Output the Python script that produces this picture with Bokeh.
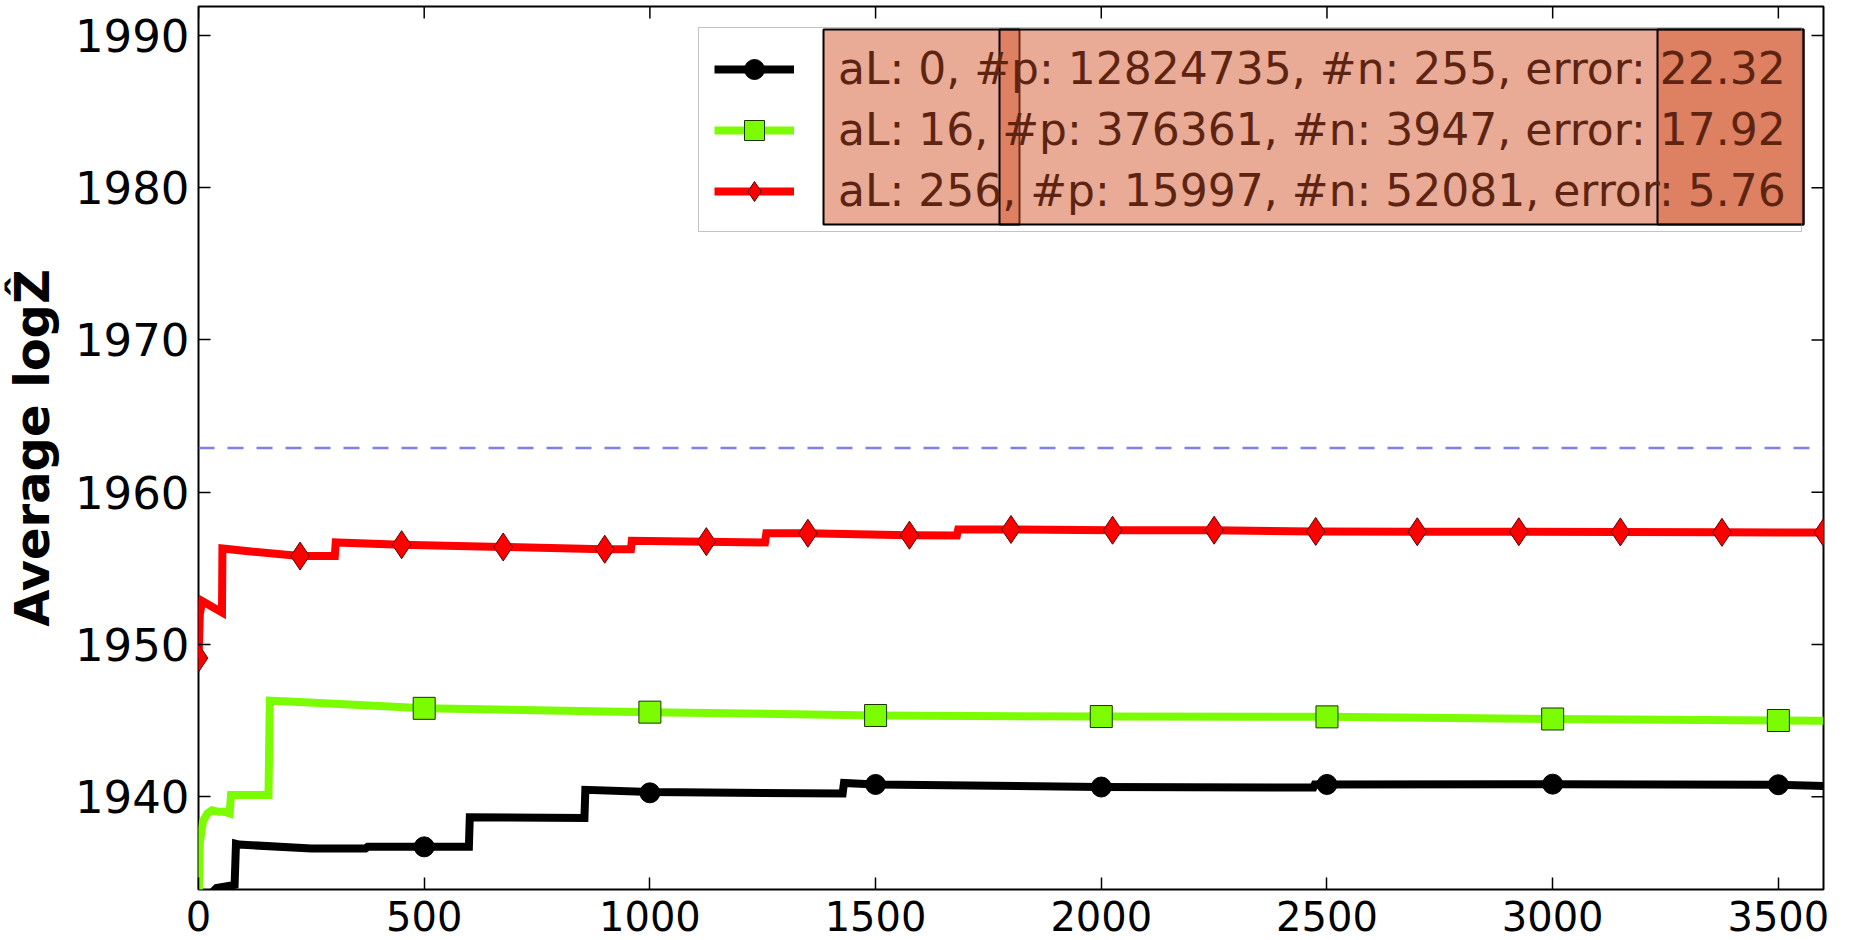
import math
from bokeh.plotting import figure
from bokeh.models import (Range1d, FixedTicker, Legend, LegendItem,
                          Span, BoxAnnotation)
from bokeh.embed import file_html
from bokeh.resources import INLINE

# ---------------- data ----------------
x_ticks = [0, 500, 1000, 1500, 2000, 2500, 3000, 3500]
y_ticks = [1940, 1950, 1960, 1970, 1980, 1990]
x_lim = [0, 3600]
y_lim = [1933.9, 1991.9]

true_logz = 1962.9  # dashed reference line

black_x = [0, 30, 40, 80, 83, 90, 250, 255, 370, 375, 599, 601, 855, 857,
           1000, 1427, 1430, 1500, 2000, 2470, 2473, 3000, 3500, 3600]
black_y = [1932.5, 1933.7, 1934.0, 1934.2, 1936.9, 1936.85, 1936.6, 1936.6,
           1936.6, 1936.7, 1936.7, 1938.64, 1938.6, 1940.45, 1940.3, 1940.2,
           1940.9, 1940.8, 1940.63, 1940.6, 1940.8, 1940.82, 1940.78, 1940.7]
black_mx = [0, 500, 1000, 1500, 2000, 2500, 3000, 3500]
black_my = [1932.5, 1936.7, 1940.25, 1940.8, 1940.63, 1940.8, 1940.82, 1940.78]

green_x = [0, 3, 10, 20, 30, 45, 59, 69, 72, 155, 158, 200, 500, 1000, 1500,
           2000, 2500, 3000, 3500, 3600]
green_y = [1933.0, 1937.0, 1938.4, 1938.9, 1939.1, 1939.0, 1939.0, 1938.9,
           1940.1, 1940.1, 1946.3, 1946.25, 1945.8, 1945.55, 1945.33, 1945.26,
           1945.24, 1945.1, 1945.0, 1944.98]
green_mx = [0, 500, 1000, 1500, 2000, 2500, 3000, 3500]
green_my = [1933.0, 1945.8, 1945.55, 1945.33, 1945.26, 1945.24, 1945.1, 1945.0]

red_x = [0, 3, 8, 52, 53, 100, 224, 302, 304, 449, 673, 897, 958, 960, 1122,
         1255, 1258, 1347, 1572, 1680, 1683, 1797, 2020, 2245, 2470, 2695,
         2920, 3145, 3370, 3600]
red_y = [1949.1, 1952.0, 1952.85, 1952.1, 1956.3, 1956.15, 1955.8, 1955.8,
         1956.7, 1956.55, 1956.4, 1956.25, 1956.25, 1956.8, 1956.75, 1956.7,
         1957.3, 1957.3, 1957.17, 1957.15, 1957.55, 1957.55, 1957.5, 1957.5,
         1957.42, 1957.4, 1957.4, 1957.39, 1957.36, 1957.35]
red_mx = [0, 225, 450, 675, 900, 1125, 1350, 1575, 1800, 2025, 2250, 2475,
          2700, 2925, 3150, 3375, 3600]
red_my = [1949.1, 1955.8, 1956.55, 1956.4, 1956.25, 1956.75, 1957.3, 1957.17,
          1957.55, 1957.5, 1957.5, 1957.42, 1957.4, 1957.4, 1957.39, 1957.36,
          1957.35]

labels = ["aL: 0, #p: 12824735, #n: 255, error: 22.32",
          "aL: 16, #p: 376361, #n: 3947, error: 17.92",
          "aL: 256, #p: 15997, #n: 52081, error: 5.76"]

# ---------------- figure ----------------
p = figure(width=1850, height=940, output_backend="svg", toolbar_location=None,
           x_range=Range1d(*x_lim), y_range=Range1d(*y_lim),
           min_border_left=198, min_border_right=27, min_border_top=6,
           min_border_bottom=51)
p.grid.visible = False
p.outline_line_color = "black"
p.outline_line_width = 2
p.background_fill_color = "white"
p.border_fill_color = "white"

for ax in p.axis:
    ax.axis_line_color = None
    ax.major_tick_in = 12
    ax.major_tick_out = 0
    ax.major_tick_line_color = "black"
    ax.major_tick_line_width = 1.5
    ax.minor_tick_line_color = None
    ax.major_label_text_font = "DejaVu Sans"
    ax.major_label_text_color = "black"

p.xaxis.ticker = FixedTicker(ticks=x_ticks)
p.yaxis.ticker = FixedTicker(ticks=y_ticks)
p.xaxis.major_label_text_font_size = "40px"
p.yaxis.major_label_text_font_size = "45px"
p.xaxis.major_label_standoff = 11
p.yaxis.major_label_standoff = 9
p.yaxis.axis_label = "Average logẐ"
p.yaxis.axis_label_text_font = "DejaVu Sans"
p.yaxis.axis_label_text_font_style = "bold"
p.yaxis.axis_label_text_font_size = "48px"
p.yaxis.axis_label_text_color = "black"
p.yaxis.axis_label_standoff = 12

# inward ticks on the top and right edges of the frame
p.scatter(x_ticks, [y_lim[1]] * len(x_ticks), marker="dash", size=24,
          angle=math.pi / 2, line_color="black", line_width=1.5)
p.scatter([x_lim[1]] * len(y_ticks), y_ticks, marker="dash", size=24,
          line_color="black", line_width=1.5)

p.add_layout(Span(location=true_logz, dimension="width", line_color="#6A6AE6",
                  line_dash="16 13", line_width=2.5, line_alpha=0.85))

# highlight overlays behind the legend text
for left, right in [(823, 1019), (999, 1803), (1657, 1803)]:
    p.add_layout(BoxAnnotation(left=left, right=right, top=29, bottom=224,
                               left_units="canvas", right_units="canvas",
                               top_units="canvas", bottom_units="canvas",
                               fill_color="#D3552D", fill_alpha=0.5,
                               line_color="black", line_alpha=1.0,
                               line_width=2))

bl = p.line(black_x, black_y, line_color="black", line_width=8, line_join="miter")
bm = p.scatter(black_mx, black_my, marker="circle", size=20, fill_color="black",
               line_color="black")
gl = p.line(green_x, green_y, line_color="#7CFC00", line_width=8, line_join="miter")
gm = p.scatter(green_mx, green_my, marker="square", size=22, fill_color="#7CFC00",
               line_color="#1a3300", line_width=1)
rl = p.line(red_x, red_y, line_color="#FF0000", line_width=8, line_join="miter")
rm = p.scatter(red_mx, red_my, marker="diamond", size=28, fill_color="#FF0000",
               line_color="#550000", line_width=1)

legend = Legend(items=[LegendItem(label=labels[0], renderers=[bl, bm]),
                       LegendItem(label=labels[1], renderers=[gl, gm]),
                       LegendItem(label=labels[2], renderers=[rl, rm])],
                location="top_right", margin=21, padding=15, spacing=10,
                glyph_width=80, glyph_height=50, label_standoff=44,
                label_width=948, label_text_font="DejaVu Sans",
                label_text_font_size="44px", label_text_color="#5E2412",
                border_line_color="#888888", border_line_width=1.5,
                background_fill_color="white", background_fill_alpha=0.0)
p.add_layout(legend)

open("out.html", "w").write(file_html(p, INLINE))
